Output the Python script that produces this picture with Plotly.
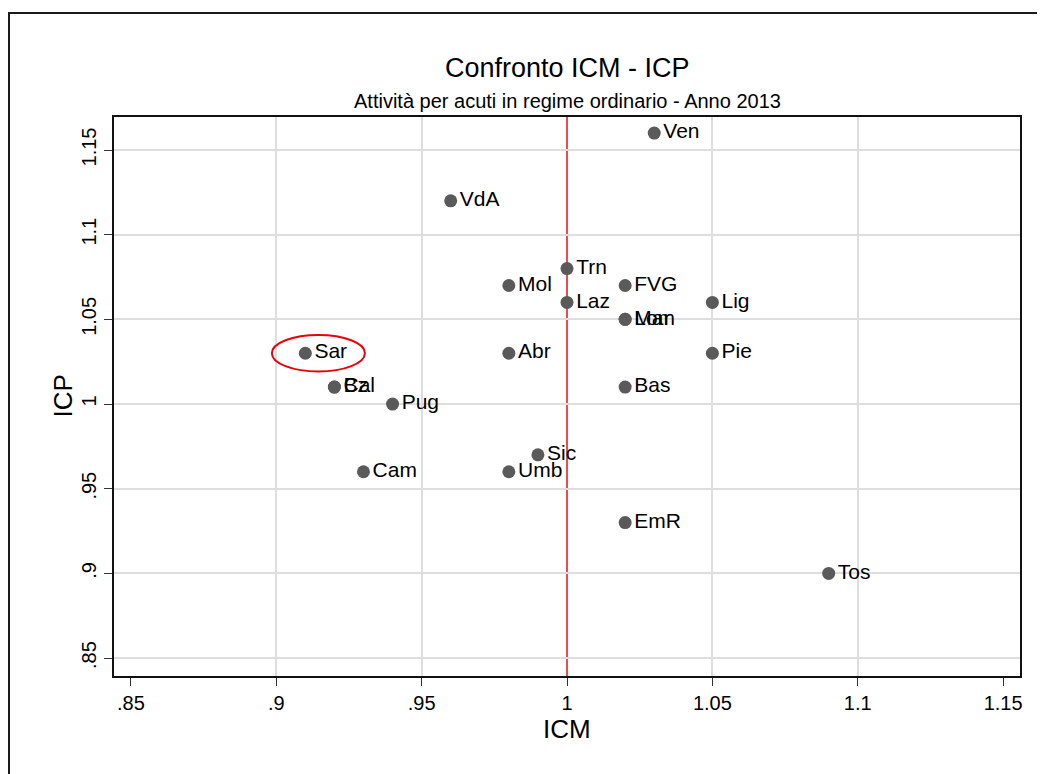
import plotly.graph_objects as go

# ---- data ----
regions = ["Ven", "VdA", "Trn", "Mol", "FVG", "Laz", "Lig", "Lom", "Mar", "Sar",
           "Abr", "Pie", "Bz", "Cal", "Bas", "Pug", "Sic", "Cam", "Umb", "EmR", "Tos"]
icm = [1.03, 0.96, 1.00, 0.98, 1.02, 1.00, 1.05, 1.02, 1.02, 0.91,
       0.98, 1.05, 0.92, 0.92, 1.02, 0.94, 0.99, 0.93, 0.98, 1.02, 1.09]
icp = [1.16, 1.12, 1.08, 1.07, 1.07, 1.06, 1.06, 1.05, 1.05, 1.03,
       1.03, 1.03, 1.01, 1.01, 1.01, 1.00, 0.97, 0.96, 0.96, 0.93, 0.90]

x_ticks = [0.85, 0.90, 0.95, 1.00, 1.05, 1.10, 1.15]
x_tick_text = [".85", ".9", ".95", "1", "1.05", "1.1", "1.15"]
x_grid = [0.90, 0.95, 1.05, 1.10]
y_ticks = [0.85, 0.90, 0.95, 1.00, 1.05, 1.10, 1.15]
y_tick_text = [".85", ".9", ".95", "1", "1.05", "1.1", "1.15"]
ref_x = 1.0
ref_y = 1.0
highlight = "Sar"

title = "Confronto ICM - ICP"
subtitle = "Attività per acuti in regime ordinario - Anno 2013"
x_title = "ICM"
y_title = "ICP"

# ---- layout geometry (pixels, page has an 8px body margin) ----
OFF = 8
W, H = 1045 - OFF, 774 - OFF
L, R, T, B = 114 - OFF, 1020 - OFF, 117 - OFF, 676 - OFF
pw, ph = R - L, B - T
x_range = [0.8442, 1.1558]
y_range = [0.8394, 1.1695]

def px_to_paper_x(px):
    return (px - OFF - L) / pw

def py_to_paper_y(py):
    return (B - (py - OFF)) / ph

FONT = "Liberation Sans, Arial, sans-serif"

fig = go.Figure()

# helper trace to activate the grid-only x axis
fig.add_trace(go.Scatter(x=[None], y=[None], xaxis="x2", showlegend=False, hoverinfo="skip"))

fig.add_trace(go.Scatter(
    x=icm, y=icp, mode="markers+text", text=regions,
    textposition="middle right",
    textfont=dict(family=FONT, size=21, color="#000000"),
    marker=dict(size=13, color="#5a5a5a"),
    showlegend=False, cliponaxis=False,
))

# highlight ellipse around selected region and its label
hi = regions.index(highlight)
hx, hy = icm[hi], icp[hi]
fig.add_shape(type="circle", xref="x", yref="y",
              x0=hx - 0.0115, x1=hx + 0.0205, y0=hy - 0.0108, y1=hy + 0.0108,
              line=dict(color="#e8000b", width=2))

# reference lines
fig.add_shape(type="line", xref="x", yref="paper", x0=ref_x, x1=ref_x, y0=0, y1=1,
              line=dict(color="#e41010", width=1.5), layer="between")
fig.add_shape(type="line", xref="paper", yref="y", x0=0, x1=1, y0=ref_y, y1=ref_y,
              line=dict(color="#ee1111", width=1.5), layer="between")

# outer frame
fig.add_shape(type="rect", xref="paper", yref="paper",
              x0=px_to_paper_x(9), x1=px_to_paper_x(1090),
              y0=py_to_paper_y(820), y1=py_to_paper_y(13),
              line=dict(color="#1a1a1a", width=2), layer="below")

# titles
fig.add_annotation(text=title, xref="paper", yref="paper", x=0.5, y=py_to_paper_y(68),
                   showarrow=False, font=dict(family=FONT, size=27, color="#000"),
                   xanchor="center", yanchor="middle")
fig.add_annotation(text=subtitle, xref="paper", yref="paper", x=0.5, y=py_to_paper_y(101),
                   showarrow=False, font=dict(family=FONT, size=20, color="#000"),
                   xanchor="center", yanchor="middle")
fig.add_annotation(text=x_title, xref="paper", yref="paper", x=0.5, y=py_to_paper_y(729),
                   showarrow=False, font=dict(family=FONT, size=26, color="#000"),
                   xanchor="center", yanchor="middle")
fig.add_annotation(text=y_title, xref="paper", yref="paper", x=px_to_paper_x(62), y=0.5,
                   showarrow=False, textangle=-90, font=dict(family=FONT, size=26, color="#000"),
                   xanchor="center", yanchor="middle")

fig.update_layout(
    width=W, height=H,
    margin=dict(l=L, r=W - R, t=T, b=H - B),
    paper_bgcolor="white", plot_bgcolor="white",
    font=dict(family=FONT, color="#000"),
    xaxis=dict(range=x_range, tickvals=x_ticks, ticktext=x_tick_text,
               showgrid=False, zeroline=False,
               showline=True, mirror=True, linecolor="#111", linewidth=1.5,
               ticks="outside", ticklen=8, tickcolor="#333", tickwidth=1,
               tickfont=dict(family=FONT, size=20, color="#000")),
    xaxis2=dict(range=x_range, overlaying="x", tickvals=x_grid, showticklabels=False,
                ticks="", showgrid=True, gridcolor="#dedede", gridwidth=2,
                zeroline=False, showline=False),
    yaxis=dict(range=y_range, tickvals=y_ticks, ticktext=y_tick_text,
               showgrid=True, gridcolor="#dedede", gridwidth=2, zeroline=False,
               showline=True, mirror=True, linecolor="#111", linewidth=1.5,
               ticks="outside", ticklen=8, tickcolor="#333", tickwidth=1,
               tickangle=-90,
               tickfont=dict(family=FONT, size=20, color="#000")),
)

fig.write_html("out.html")
